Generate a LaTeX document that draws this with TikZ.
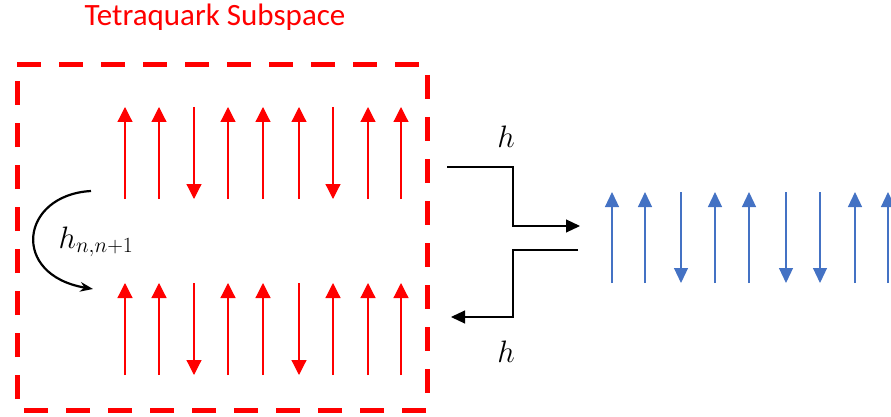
\RequirePackage{fix-cm}
\documentclass[tikz,border=0pt]{standalone}
\usepackage{fontspec}
\usepackage{amsmath}
\newfontfamily\calibri{Carlito}
\usetikzlibrary{positioning, arrows.meta}
\definecolor{spinred}{RGB}{255,0,0}
\definecolor{spinblue}{RGB}{68,114,196}
\tikzset{>=Stealth, x=1pt, y=-1pt,
redspin/.style={spinred, line width=1.2pt, -{Triangle[length=15pt, width=15pt]}},
bluespin/.style={spinblue, line width=1.2pt, -{Triangle[length=15pt, width=14pt]}},
hop/.style={black, line width=1.1pt, -{Triangle[length=14pt, width=13pt]}},
hlabel/.style={font=\fontsize{31}{36}\selectfont},
}

\begin{document}
\begin{tikzpicture}
            \useasboundingbox (0,0) rectangle (891,417);
            \node[spinred, font=\calibri\fontsize{31}{36}\selectfont] (title) at (215,17) {Tetraquark Subspace};
            \draw[spinred, line width=5pt, dash pattern=on 24pt off 18pt]
                (17,65) -- (427,65) -- (427,410) -- (17,410) -- cycle;

            % top row of the subspace
            \foreach \x/\s in {125/1, 159/1, 194/0, 228/1, 263/1, 299/1, 333/0, 368/1, 401/1}{
                \ifnum\s=1 \draw[redspin] (\x,199) -- (\x,107);
                \else \draw[redspin] (\x,107) -- (\x,199); \fi
            }
            % bottom row of the subspace
            \foreach \x/\s in {125/1, 159/1, 194/0, 228/1, 263/1, 299/0, 333/1, 368/1, 401/1}{
                \ifnum\s=1 \draw[redspin] (\x,375) -- (\x,283);
                \else \draw[redspin] (\x,283) -- (\x,375); \fi
            }
            % chain outside
            \foreach \x/\s in {612/1, 645/1, 681/0, 715/1, 749/1, 786/0, 820/0, 855/1, 888/1}{
                \ifnum\s=1 \draw[bluespin] (\x,283) -- (\x,192);
                \else \draw[bluespin] (\x,192) -- (\x,283); \fi
            }

            \coordinate (cs) at (91,191);
            \coordinate (ce) at (93,289);
            \draw[->, line width=2.2pt] (cs) .. controls (20,195) and (10,275) .. (ce);
            \node[hlabel] (hnn) at (96,242) {$h_{n,n+1}$};

            \coordinate (a1) at (447,167);
            \coordinate (a2) at (580,226);
            \coordinate (b1) at (578,250);
            \coordinate (b2) at (451,317);
            \draw[hop] (a1) -- ++(66,0) |- (a2);
            \draw[hop] (b1) -- ++(-65,0) |- (b2);
            \node[hlabel] (hup) at (506,137) {$h$};
            \node[hlabel] (hdown) at (506,352) {$h$};
        \end{tikzpicture}
\end{document}
